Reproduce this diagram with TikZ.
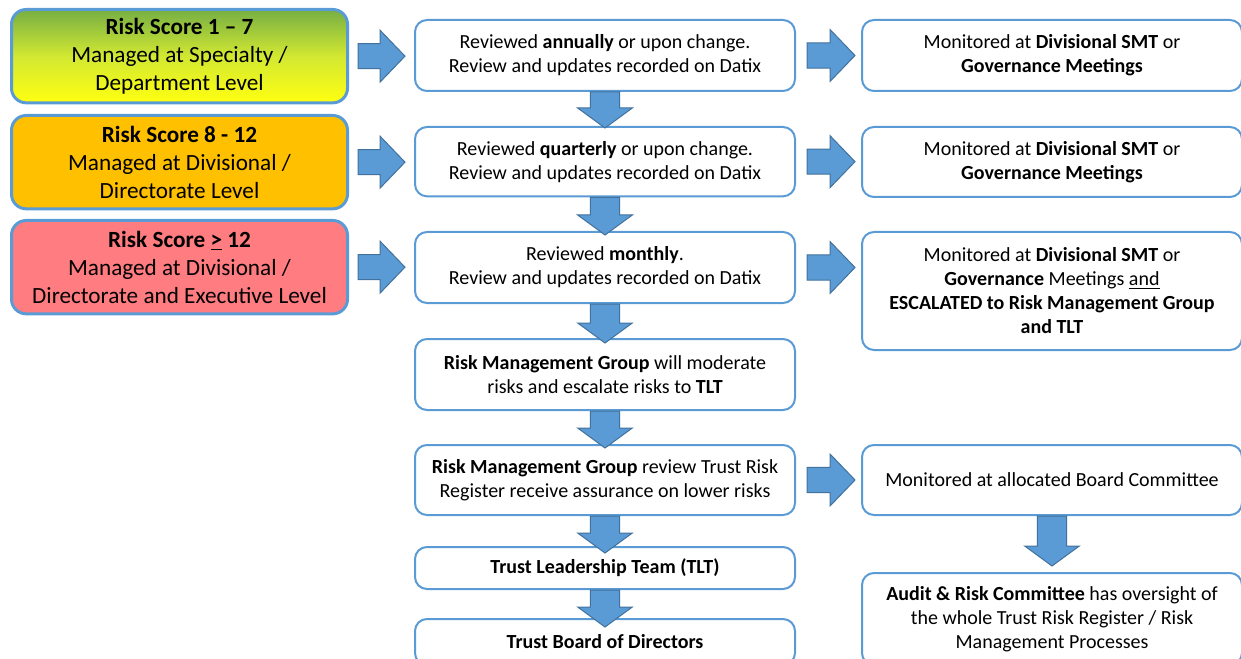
\documentclass[tikz,border=0pt]{standalone}
\usepackage{fontspec}
\setmainfont{Carlito}
\usetikzlibrary{calc}
\definecolor{edgeblue}{HTML}{5B9BD5}
\definecolor{arrowfill}{HTML}{5B9BD5}
\definecolor{arrowline}{HTML}{41719C}
\definecolor{lowgreen}{HTML}{76AF43}
\definecolor{lowlime}{HTML}{D2E832}
\definecolor{lowyellow}{HTML}{FFFF10}
\definecolor{midamber}{HTML}{FFC000}
\definecolor{highred}{HTML}{FF7C80}

\begin{document}
\begin{tikzpicture}[
    x=0.75pt, y=-0.75pt,
    box/.style={draw=edgeblue, line width=1.5pt, rounded corners=9pt,
                fill=white, anchor=north west, align=center, inner sep=2pt,
                minimum width=285pt, font=\fontsize{15}{18}\selectfont},
    level/.style={box, line width=2.25pt, rounded corners=11pt, minimum width=252pt,
                  minimum height=70pt, font=\fontsize{17.4}{21}\selectfont},
    fatright/.style={fill=arrowfill, draw=arrowline, line width=0.75pt,
        to path={let \p1=(\tikztostart), \p2=(\tikztotarget) in
            (\x1,\y1+9.4pt) -- (\x2-18.75pt,\y1+9.4pt) -- (\x2-18.75pt,\y1+19.5pt)
            -- (\x2,\y1) -- (\x2-18.75pt,\y1-19.5pt) -- (\x2-18.75pt,\y1-9.4pt)
            -- (\x1,\y1-9.4pt) -- cycle}},
    fatdown/.style={fill=arrowfill, draw=arrowline, line width=0.75pt,
        to path={let \p1=(\tikztostart), \p2=(\tikztotarget) in
            (\x1-11pt,\y1) -- (\x1-11pt,\y2+15pt) -- (\x1-20.5pt,\y2+15pt)
            -- (\x1,\y2) -- (\x1+20.5pt,\y2+15pt) -- (\x1+11pt,\y2+15pt)
            -- (\x1+11pt,\y1) -- cycle}},
]
\useasboundingbox (0,0) rectangle (1241,659);

% ---- risk levels ----
\node[level, top color=lowgreen, bottom color=lowyellow, middle color=lowlime]
    (low) at (10,8) {\textbf{Risk Score 1 – 7}\\Managed at Specialty /\\Department Level};
\node[level, fill=midamber] (mid) at (10,114)
    {\textbf{Risk Score 8 - 12}\\Managed at Divisional /\\Directorate Level};
\node[level, fill=highred] (high) at (10,219)
    {\textbf{Risk Score \underline{>} 12}\\Managed at Divisional /\\Directorate and Executive Level};

% ---- review chain ----
\node[box, minimum height=53.25pt] (annual) at (414,19)
    {Reviewed \textbf{annually} or upon change.\\Review and updates recorded on Datix};
\node[box, minimum height=52pt] (quarter) at (414,126)
    {Reviewed \textbf{quarterly} or upon change.\\Review and updates recorded on Datix};
\node[box, minimum height=53.25pt] (month) at (414,231)
    {Reviewed \textbf{monthly}.\\Review and updates recorded on Datix};
\node[box, minimum height=53.25pt] (rmg) at (414,338)
    {\textbf{Risk Management Group} will moderate\\risks and escalate risks to \textbf{TLT}};
\node[box, minimum height=52.5pt] (rmgreview) at (414,444)
    {\textbf{Risk Management Group} review Trust Risk\\Register receive assurance on lower risks};
\node[box, minimum height=31.5pt] (tlt) at (414,546) {\textbf{Trust Leadership Team (TLT)}};
\node[box, minimum height=34.5pt] (board) at (414,618) {\textbf{Trust Board of Directors}};

% ---- monitoring ----
\node[box, minimum height=53.25pt] (monlow) at (861,19)
    {Monitored at \textbf{Divisional SMT} or\\\textbf{Governance Meetings}};
\node[box, minimum height=52.5pt] (monmid) at (861,126)
    {Monitored at \textbf{Divisional SMT} or\\\textbf{Governance Meetings}};
\node[box, minimum height=88.5pt] (monhigh) at (861,231)
    {Monitored at \textbf{Divisional SMT} or\\\textbf{Governance} Meetings \underline{and}\\
     \textbf{ESCALATED to Risk Management Group}\\\textbf{and TLT}};
\node[box, minimum height=52.5pt] (monboard) at (861,444)
    {Monitored at allocated Board Committee};
\node[box, minimum height=69pt] (audit) at (861,572)
    {\textbf{Audit \& Risk Committee} has oversight of\\the whole Trust Risk Register / Risk\\Management Processes};

% ---- block arrows ----
\draw[fatright] ($(low.east)+(9,0)$) to ($(annual.west)+(-9,0)$);
\draw[fatright] ($(mid.east)+(9,0)$) to ($(quarter.west)+(-9,0)$);
\draw[fatright] ($(high.east)+(9,0)$) to ($(month.west)+(-9,0)$);
\draw[fatright] ($(annual.east)+(11,0)$) to ($(monlow.west)+(-6,0)$);
\draw[fatright] ($(quarter.east)+(11,0)$) to ($(monmid.west)+(-6,0)$);
\draw[fatright] ($(month.east)+(11,0)$) to ($(monhigh.west)+(-6,0)$);
\draw[fatright] ($(rmgreview.east)+(11,0)$) to ($(monboard.west)+(-6,0)$);

\draw[fatdown] (annual.south) to ($(quarter.north)+(0,2)$);
\draw[fatdown] (quarter.south) to ($(month.north)+(0,4)$);
\draw[fatdown] (month.south) to ($(rmg.north)+(0,5)$);
\draw[fatdown] (rmg.south) to ($(rmgreview.north)+(0,4)$);
\draw[fatdown] (rmgreview.south) to ($(tlt.north)+(0,7)$);
\draw[fatdown] (tlt.south) to ($(board.north)+(0,9)$);
\draw[fatdown] (monboard.south) to ($(audit.north)+(0,-6)$);
\end{tikzpicture}
\end{document}
